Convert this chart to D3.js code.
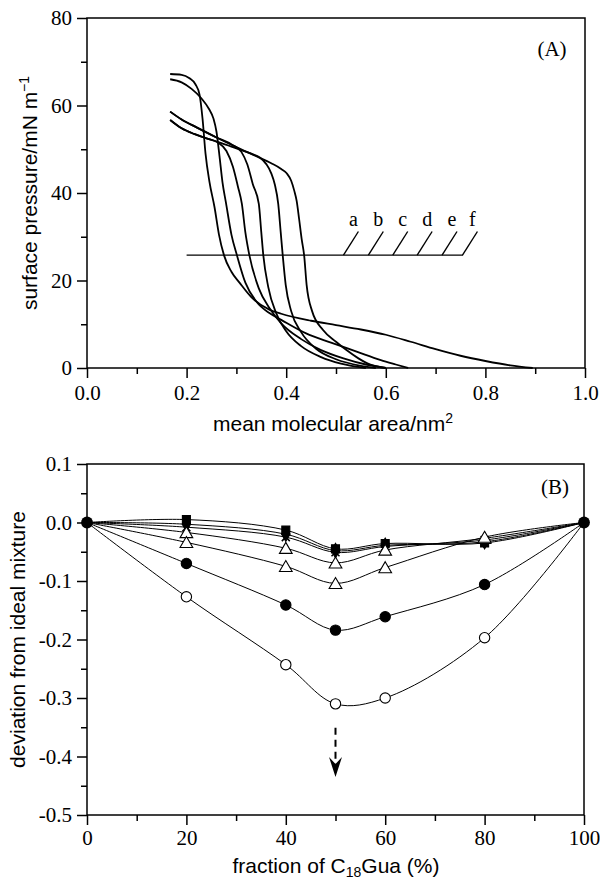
<!DOCTYPE html>
<html>
<head>
<meta charset="utf-8">
<script src="https://cdn.jsdelivr.net/npm/d3@7"></script>
<style>
  body { margin: 0; background: #fff; }
  .tick text { font-family: "Liberation Serif", "Times New Roman", serif; font-size: 21px; fill: #000; }
  .axis-title { font-family: "Liberation Sans", Arial, sans-serif; font-size: 21px; fill: #000; }
  .serif { font-family: "Liberation Serif", "Times New Roman", serif; fill: #000; }
</style>
</head>
<body>
<div id="chart"></div>
<script>
// ---------- panel A: isotherms (mean molecular area nm2, surface pressure mN/m)
const isoA = [[0.167,67.2],[0.19,67.0],[0.205,66.3],[0.218,64.8],[0.226,62.5],[0.232,57],[0.238,49],[0.246,42.5],[0.256,36.8],[0.265,30.5],[0.275,25.8],[0.29,22],[0.307,19.4],[0.33,16.2],[0.367,13.3],[0.39,12.4],[0.45,10.8],[0.5,9.8],[0.55,8.8],[0.6,7.6],[0.65,6.0],[0.7,4.3],[0.75,2.8],[0.8,1.6],[0.85,0.6],[0.895,0]];
const isoB = [[0.167,66.0],[0.19,65.3],[0.21,63.8],[0.23,61.6],[0.245,59.2],[0.254,57],[0.26,54],[0.266,48.5],[0.272,42.5],[0.279,37.8],[0.29,30.5],[0.301,25.8],[0.318,19.5],[0.34,15.2],[0.367,12.5],[0.39,11.0],[0.44,7.9],[0.49,5.8],[0.54,3.8],[0.59,1.8],[0.62,0.8],[0.645,0]];
const isoC = [[0.167,56.7],[0.19,54.8],[0.215,53.5],[0.24,52.5],[0.262,51.6],[0.28,49.6],[0.293,46],[0.303,41.5],[0.311,37.5],[0.318,31],[0.326,25.8],[0.345,18.2],[0.367,13.6],[0.39,10.2],[0.43,6.6],[0.47,4.1],[0.515,2.2],[0.56,0.8],[0.6,0]];
const isoD = [[0.167,58.6],[0.19,56.8],[0.22,55.0],[0.26,52.7],[0.292,51.0],[0.31,49.4],[0.322,46.5],[0.333,42],[0.345,37.5],[0.35,31],[0.354,25.8],[0.364,18.5],[0.38,12.5],[0.40,8.4],[0.43,5.0],[0.47,2.5],[0.51,1.0],[0.56,0]];
const isoE = [[0.167,56.7],[0.19,54.8],[0.215,53.5],[0.24,52.5],[0.27,51.4],[0.3,50.2],[0.33,49.0],[0.347,48.1],[0.36,46.6],[0.37,44.5],[0.377,42],[0.384,37.5],[0.389,31],[0.393,25.8],[0.399,19],[0.41,13],[0.43,8.2],[0.46,4.4],[0.5,2.0],[0.55,0.5],[0.58,0]];
const isoF = [[0.167,58.6],[0.19,56.8],[0.22,55.0],[0.26,52.7],[0.3,50.5],[0.34,48.4],[0.37,46.8],[0.39,45.5],[0.401,44.5],[0.41,42.8],[0.416,40.6],[0.421,38.2],[0.426,34],[0.431,29.5],[0.436,25.8],[0.441,19],[0.452,13],[0.474,8.7],[0.5,6.0],[0.521,4.1],[0.545,2.2],[0.562,1.1],[0.6,0]];
const isotherms = [isoA, isoB, isoC, isoD, isoE, isoF];
const isoLabels = ["a", "b", "c", "d", "e", "f"];
const keyLine = [[0.2, 25.8], [0.755, 25.8]];
const keyTickArea = [0.515, 0.565, 0.614, 0.663, 0.713, 0.754];

// ---------- panel B: deviation from ideal mixture vs fraction of C18Gua
const fractions = [0, 20, 40, 50, 60, 80, 100];
const devSquare   = [0, 0.005, -0.013, -0.045, -0.036, -0.035, 0];
const devDiamond  = [0, -0.003, -0.020, -0.048, -0.039, -0.033, 0];
const devCross    = [0, -0.008, -0.025, -0.051, -0.041, -0.030, 0];
const devTriUp    = [0, -0.017, -0.044, -0.069, -0.047, -0.027, 0];
const devTriLow   = [0, -0.034, -0.075, -0.104, -0.077, -0.025, 0];
const devDot      = [0, -0.070, -0.141, -0.184, -0.161, -0.106, 0];
const devOpen     = [0, -0.127, -0.243, -0.310, -0.300, -0.197, 0];
const arrowFrom = [50, -0.351];
const arrowTo = [50, -0.435];

const W = 600, H = 881;
const svg = d3.select("#chart").append("svg").attr("width", W).attr("height", H);

function drawAxes(g, x, y, box, xMajor, xMinor, yMajor, yMinor, xFmt, yFmt, xPad) {
    g.append("g").attr("transform", `translate(0,${box.bottom})`)
        .call(d3.axisBottom(x).tickValues(xMinor).tickSize(6).tickFormat(""))
        .call(a => a.select(".domain").remove());
    g.append("g").attr("transform", `translate(0,${box.bottom})`)
        .call(d3.axisBottom(x).tickValues(xMajor).tickSize(10).tickPadding(xPad).tickFormat(xFmt))
        .call(a => a.select(".domain").remove());
    g.append("g").attr("transform", `translate(${box.left},0)`)
        .call(d3.axisLeft(y).tickValues(yMinor).tickSize(6).tickFormat(""))
        .call(a => a.select(".domain").remove());
    g.append("g").attr("transform", `translate(${box.left},0)`)
        .call(d3.axisLeft(y).tickValues(yMajor).tickSize(10).tickPadding(5).tickFormat(yFmt))
        .call(a => a.select(".domain").remove());
    g.selectAll(".tick line").attr("stroke", "#000").attr("stroke-width", 1.5);
    g.append("rect")
        .attr("x", box.left).attr("y", box.top)
        .attr("width", box.right - box.left).attr("height", box.bottom - box.top)
        .attr("fill", "none").attr("stroke", "#000").attr("stroke-width", 1.5);
}

// ===== Panel A
const boxA = {left: 87, right: 585, top: 18, bottom: 368};
const xA = d3.scaleLinear().domain([0, 1]).range([boxA.left, boxA.right]);
const yA = d3.scaleLinear().domain([0, 80]).range([boxA.bottom, boxA.top]);
const gA = svg.append("g");

const lineA = d3.line().x(d => xA(d[0])).y(d => yA(d[1])).curve(d3.curveMonotoneX);
gA.selectAll(".iso").data(isotherms).enter().append("path")
    .attr("class", "iso")
    .attr("d", lineA)
    .attr("fill", "none").attr("stroke", "#000").attr("stroke-width", 1.8);

// key line with slanted ticks
gA.append("path").attr("d", d3.line().x(d => xA(d[0])).y(d => yA(d[1]))(keyLine))
    .attr("stroke", "#000").attr("stroke-width", 1.4).attr("fill", "none");
gA.selectAll(".keytick").data(keyTickArea).enter().append("line")
    .attr("x1", d => xA(d)).attr("y1", yA(25.8))
    .attr("x2", d => xA(d + 0.03)).attr("y2", yA(31.2))
    .attr("stroke", "#000").attr("stroke-width", 1.4);
gA.selectAll(".keylab").data(isoLabels).enter().append("text")
    .attr("class", "serif")
    .attr("x", (d, i) => xA(keyTickArea[i] + 0.02))
    .attr("y", yA(32.5))
    .attr("text-anchor", "middle")
    .style("font-size", "20px")
    .text(d => d);

drawAxes(gA, xA, yA, boxA,
    [0, 0.2, 0.4, 0.6, 0.8, 1.0], [0.1, 0.3, 0.5, 0.7, 0.9],
    [0, 20, 40, 60, 80], [10, 30, 50, 70],
    d3.format(".1f"), d3.format("d"), 7);

gA.append("text").attr("class", "serif").attr("x", 552).attr("y", 56)
    .attr("text-anchor", "middle").style("font-size", "21px").text("(A)");

const tA = gA.append("text").attr("class", "axis-title")
    .attr("x", 333).attr("y", 431).attr("text-anchor", "middle");
tA.append("tspan").text("mean molecular area/nm");
tA.append("tspan").attr("dy", -8).style("font-size", "14px").text("2");

const yTA = gA.append("text").attr("class", "axis-title")
    .attr("transform", `translate(37,${(boxA.top + boxA.bottom) / 2}) rotate(-90)`)
    .attr("text-anchor", "middle");
yTA.append("tspan").text("surface pressure/mN m");
yTA.append("tspan").attr("dy", -8).style("font-size", "14px").text("\u22121");

// ===== Panel B
const boxB = {left: 87, right: 584, top: 464, bottom: 815};
const xB = d3.scaleLinear().domain([0, 100]).range([boxB.left, boxB.right]);
const yB = d3.scaleLinear().domain([-0.5, 0.1]).range([boxB.bottom, boxB.top]);
const gB = svg.append("g");

const seriesB = [
    {vals: devSquare, mark: "square"},
    {vals: devDiamond, mark: "diamond"},
    {vals: devCross, mark: "cross"},
    {vals: devTriUp, mark: "triangle"},
    {vals: devTriLow, mark: "triangle"},
    {vals: devDot, mark: "dot"},
    {vals: devOpen, mark: "circle"}
];

const lineB = d3.line().x(d => xB(d[0])).y(d => yB(d[1])).curve(d3.curveCatmullRom.alpha(0.5));
seriesB.forEach(s => {
    const pts = fractions.map((f, i) => [f, s.vals[i]]);
    gB.append("path").attr("d", lineB(pts))
        .attr("fill", "none").attr("stroke", "#000").attr("stroke-width", 1);
});

const symbols = {
    square: d3.symbol(d3.symbolSquare, 64),
    diamond: d3.symbol(d3.symbolDiamond, 60),
    triangle: d3.symbol(d3.symbolTriangle, 70),
    dot: d3.symbol(d3.symbolCircle, 84),
    circle: d3.symbol(d3.symbolCircle, 84)
};
const filled = {square: true, diamond: true, dot: true, triangle: false, circle: false};

seriesB.forEach(s => {
    const pts = fractions.map((f, i) => [f, s.vals[i]]).filter(p => p[0] > 0 && p[0] < 100);
    const mg = gB.append("g");
    pts.forEach(p => {
        const cx = xB(p[0]), cy = yB(p[1]);
        if (s.mark === "cross") {
            mg.append("path")
                .attr("d", `M${cx - 4},${cy - 4}L${cx + 4},${cy + 4}M${cx - 4},${cy + 4}L${cx + 4},${cy - 4}`)
                .attr("stroke", "#000").attr("stroke-width", 1.5);
        } else {
            mg.append("path").attr("d", symbols[s.mark]())
                .attr("transform", `translate(${cx},${cy + (s.mark === "triangle" ? 1.5 : 0)})`)
                .attr("fill", filled[s.mark] ? "#000" : "#fff")
                .attr("stroke", "#000").attr("stroke-width", 1.1);
        }
    });
});

// common end points
[0, 100].forEach(f => {
    gB.append("path").attr("d", d3.symbol(d3.symbolCircle, 110)())
        .attr("transform", `translate(${xB(f)},${yB(0)})`)
        .attr("fill", "#000");
});

// dashed arrow
const tipX = xB(arrowTo[0]), tipY = yB(arrowTo[1]);
gB.append("line")
    .attr("x1", xB(arrowFrom[0])).attr("y1", yB(arrowFrom[1]))
    .attr("x2", tipX).attr("y2", tipY - 12)
    .attr("stroke", "#000").attr("stroke-width", 2).attr("stroke-dasharray", "7,5");
gB.append("path")
    .attr("d", `M${tipX},${tipY}L${tipX - 6.5},${tipY - 20}L${tipX},${tipY - 13}L${tipX + 6.5},${tipY - 20}Z`)
    .attr("fill", "#000");

drawAxes(gB, xB, yB, boxB,
    [0, 20, 40, 60, 80, 100], [10, 30, 50, 70, 90],
    [0.1, 0, -0.1, -0.2, -0.3, -0.4, -0.5], [0.05, -0.05, -0.15, -0.25, -0.35, -0.45],
    d3.format("d"), d => d.toFixed(1), 5);

gB.append("text").attr("class", "serif").attr("x", 555).attr("y", 494)
    .attr("text-anchor", "middle").style("font-size", "21px").text("(B)");

const tB = gB.append("text").attr("class", "axis-title")
    .attr("x", 336).attr("y", 873).attr("text-anchor", "middle");
tB.append("tspan").text("fraction of C");
tB.append("tspan").attr("dy", 4).style("font-size", "14px").text("18");
tB.append("tspan").attr("dy", -4).text("Gua (%)");

gB.append("text").attr("class", "axis-title")
    .attr("transform", `translate(25,${(boxB.top + boxB.bottom) / 2}) rotate(-90)`)
    .attr("text-anchor", "middle")
    .text("deviation from ideal mixture");
</script>
</body>
</html>
